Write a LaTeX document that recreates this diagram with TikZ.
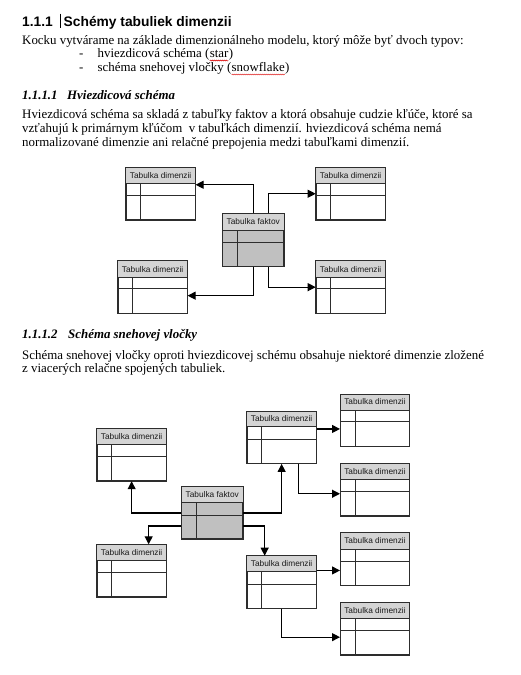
\documentclass[tikz,border=0pt]{standalone}
\usepackage{fontspec}
\setmainfont{Liberation Serif}
\setsansfont{Liberation Sans}
\usetikzlibrary{arrows.meta,decorations.pathmorphing}
\definecolor{hdrgray}{RGB}{212,212,212}
\definecolor{factgray}{RGB}{192,192,192}
\definecolor{tabline}{RGB}{45,45,45}
\newcommand\mytab[7]{%
  \node[#4] (#1) at (#2,#3) {};
  \filldraw[hdrbox] (#1.north west) rectangle ([yshift=-#5pt]#1.north east);
  \draw[tline] ([yshift=-#6pt]#1.north west) -- ([yshift=-#6pt]#1.north east);
  \draw[tline] ([xshift=15pt,yshift=-#5pt]#1.north west) -- ([xshift=15pt]#1.south west);
  \draw[tline] (#1.north west) rectangle (#1.south east);
  \path (#1.north west) -- ([yshift=-#5pt]#1.north east) node[midway,hdrtxt] (#1-t) {#7};
}
\begin{document}
\begin{tikzpicture}[x=1pt,y=-1pt,
  dtab/.style={draw=tabline, line width=0.9pt, fill=white, minimum width=69pt, minimum height=52pt, inner sep=0pt, anchor=north west},
  ftab/.style={dtab, fill=factgray, minimum width=61pt},
  hdrbox/.style={draw=tabline, line width=0.9pt, fill=hdrgray},
  tline/.style={draw=tabline, line width=0.9pt},
  hdrtxt/.style={font=\sffamily\fontsize{8.3}{9}\selectfont, inner sep=0pt, text=black!90},
  arr/.style={-{Triangle[length=8pt,width=8pt]}, line width=1.1pt},
  body/.style={anchor=base west, inner sep=0pt, font=\fontsize{12.9}{15}\selectfont},
  bisec/.style={body, font=\bfseries\itshape\fontsize{12.9}{15}\selectfont},
  squig/.style={draw=red!85!black, line width=0.4pt, decorate, decoration={snake, amplitude=0.5pt, segment length=2pt}}
]
\useasboundingbox (0,0) rectangle (520,675);

% heading
\node[body, font=\sffamily\bfseries\fontsize{13.8}{15}\selectfont] (h1) at (22,26.7) {1.1.1};
\node[body, font=\sffamily\bfseries\fontsize{13.8}{15}\selectfont] (h1t) at (63.5,26.7) {Schémy tabuliek dimenzii};
\coordinate (cur1) at (60,13.5);
\coordinate (cur2) at (60,27.5);
\draw[line width=0.8pt] (cur1) -- (cur2);

\node[body] (p1) at (22,44) {Kocku vytvárame na základe dimenzionálneho modelu, ktorý môže byť dvoch typov:};
\node[body] (d1) at (79,57.5) {-};
\node[body] (l1) at (97.5,57.5) {hviezdicová schéma (};
\node[body] (l1s) at (l1.base east) {star};
\node[body] (l1e) at (l1s.base east) {)};
\node[body] (d2) at (79,71.5) {-};
\node[body] (l2) at (97.5,71.5) {schéma snehovej vločky (};
\node[body] (l2s) at (l2.base east) {snowflake};
\node[body] (l2e) at (l2s.base east) {)};
\draw[squig] ([yshift=-3pt]l1s.base west) -- ([yshift=-3pt]l1s.base east);
\draw[squig] ([yshift=-3pt]l2s.base west) -- ([yshift=-3pt]l2s.base east);

\node[bisec] (s1n) at (22,99.5) {1.1.1.1};
\node[bisec] (s1t) at (67,99.5) {Hviezdicová schéma};
\node[body] (q1) at (22,118.5) {Hviezdicová schéma sa skladá z tabuľky faktov a ktorá obsahuje cudzie kľúče, ktoré sa};
\node[body] (q2) at (22,132.5) {vzťahujú k primárnym kľúčom\ \ v tabuľkách dimenzií. hviezdicová schéma nemá};
\node[body] (q3) at (22,146.5) {normalizované dimenzie ani relačné prepojenia medzi tabuľkami dimenzií.};

\node[bisec] (s2n) at (22,338.3) {1.1.1.2};
\node[bisec] (s2t) at (68,338.3) {Schéma snehovej vločky};
\node[body] (r1t) at (22,359) {Schéma snehovej vločky oproti hviezdicovej schému obsahuje niektoré dimenzie zložené};
\node[body] (r2t) at (22,372.5) {z viacerých relačne spojených tabuliek.};

% ---- star schema
\mytab{sa}{125.7}{167.3}{dtab}{16}{27.7}{Tabulka dimenzii}
\mytab{sb}{315.7}{167.3}{dtab}{16}{27.7}{Tabulka dimenzii}
\mytab{sc}{117.7}{260.7}{dtab}{17}{27.7}{Tabulka dimenzii}
\mytab{sd}{315.7}{260.7}{dtab}{17}{27.7}{Tabulka dimenzii}
\node[ftab, minimum height=52.7pt] (sf) at (222.3,213.3) {};
\filldraw[hdrbox] (sf.north west) rectangle ([yshift=-17.3pt]sf.north east);
\draw[tline] ([yshift=-29pt]sf.north west) -- ([yshift=-29pt]sf.north east);
\draw[tline] ([xshift=14.7pt,yshift=-17.3pt]sf.north west) -- ([xshift=14.7pt]sf.south west);
\draw[tline] (sf.north west) rectangle (sf.south east);
\path (sf.north west) -- ([yshift=-17.3pt]sf.north east) node[midway,hdrtxt] (sf-t) {Tabulka faktov};

\draw[arr] (sf.north) |- ([yshift=9pt]sa.east);
\draw[arr] ([xshift=15pt]sf.north) |- (sb.west);
\draw[arr] (sf.south) |- ([yshift=-8.5pt]sc.east);
\draw[arr] ([xshift=15pt]sf.south) |- (sd.west);

% ---- snowflake schema
\mytab{ka}{96.7}{428.3}{dtab}{16}{28.4}{Tabulka dimenzii}
\mytab{kb}{96.7}{544.3}{dtab}{15.7}{28}{Tabulka dimenzii}
\mytab{ma}{246.7}{411}{dtab}{15.7}{28}{Tabulka dimenzii}
\mytab{mb}{246.7}{555.7}{dtab}{16}{28.3}{Tabulka dimenzii}
\mytab{ra}{340}{394}{dtab}{16}{27.7}{Tabulka dimenzii}
\mytab{rb}{340}{463.3}{dtab}{16}{28.4}{Tabulka dimenzii}
\mytab{rc}{340}{532.7}{dtab}{16.3}{28.3}{Tabulka dimenzii}
\mytab{rd}{340}{602.3}{dtab}{16}{28.4}{Tabulka dimenzii}
\node[ftab, minimum height=51.6pt] (kf) at (181.3,486.7) {};
\filldraw[hdrbox] (kf.north west) rectangle ([yshift=-15.6pt]kf.north east);
\draw[tline] ([yshift=-28.3pt]kf.north west) -- ([yshift=-28.3pt]kf.north east);
\draw[tline] ([xshift=14.7pt,yshift=-15.6pt]kf.north west) -- ([xshift=14.7pt]kf.south west);
\draw[tline] (kf.north west) rectangle (kf.south east);
\path (kf.north west) -- ([yshift=-15.6pt]kf.north east) node[midway,hdrtxt] (kf-t) {Tabulka faktov};

\draw[arr] (kf.west) -| (ka.south);
\draw[arr] ([yshift=-13pt]kf.west) -| ([xshift=17pt]kb.north);
\draw[arr] (kf.east) -| (ma.south);
\draw[arr] ([yshift=-13pt]kf.east) -| ([xshift=-17pt]mb.north);
\draw[arr] ([yshift=8.5pt]ma.east) -- ([yshift=8.5pt]ma.east -| ra.west);
\draw[arr] ([xshift=17pt]ma.south) |- ([yshift=-4pt]rb.west);
\draw[arr] ([yshift=11.7pt]mb.east) -- ([yshift=11.7pt]mb.east -| rc.west);
\draw[arr] (mb.south) |- ([yshift=-8.4pt]rd.west);
\end{tikzpicture}
\end{document}
